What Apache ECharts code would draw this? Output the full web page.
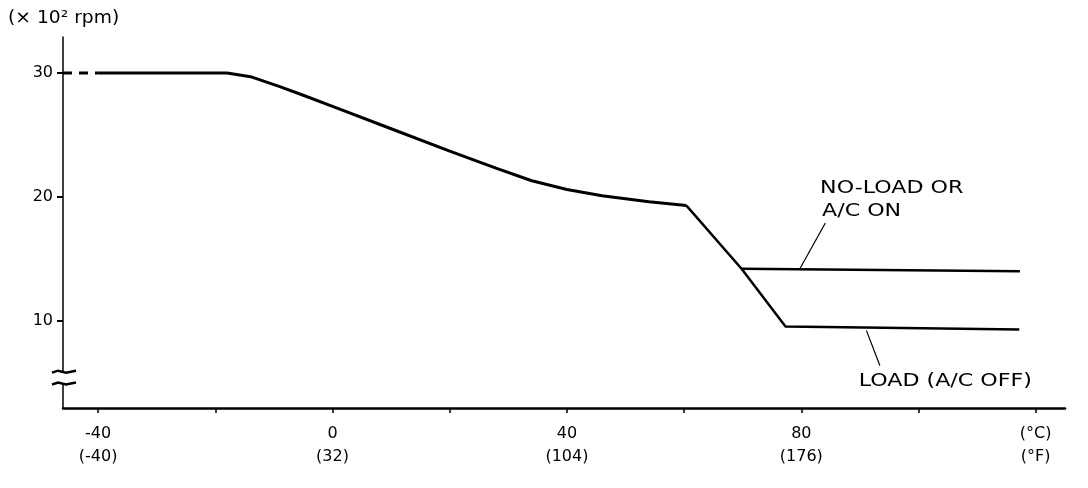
<!DOCTYPE html>
<html>
<head>
<meta charset="utf-8">
<script src="https://cdn.jsdelivr.net/npm/echarts@6/dist/echarts.min.js"></script>
<style>html,body{margin:0;padding:0;background:#fff}#c{width:1088px;height:488px}</style>
</head>
<body>
<div id="c"></div>
<script>
// ---- data ----
const xTicks = [-40, -20, 0, 20, 40, 60, 80, 100, 120];
const xLabelValues = [-40, 0, 40, 80, 120];
const xLabelsC = ['-40', '0', '40', '80', '(°C)'];
const xLabelsF = ['(-40)', '(32)', '(104)', '(176)', '(°F)'];
const yTicks = [10, 20, 30];
const yTitle = '(× 10² rpm)';
const dashedStart = [[-46, 30], [-40, 30]];
const curveTemp = [-40, -18, -14, -9, -5, 0, 10, 20, 28, 34, 40, 46, 54, 60.4];
const curveRpm  = [30, 30, 29.7, 28.9, 28.2, 27.3, 25.5, 23.7, 22.3, 21.3, 20.6, 20.1, 19.6, 19.3];
const loadTemp = [60.4, 69.8, 77.3, 117.2];
const loadRpm  = [19.3, 14.2, 9.55, 9.3];
const noLoadTemp = [69.8, 117.3];
const noLoadRpm  = [14.2, 14.0];
const noLoadLabel = ['NO-LOAD OR', 'A/C ON'];
const loadLabel = 'LOAD (A/C OFF)';
const noLoadLeader = [[79.8, 14.24], [84.1, 17.9]];
const loadLeader = [[91.1, 9.23], [93.4, 6.4]];
const noLoadTextPos = [83.2, 20.7];
const loadTextPos = [89.8, 5.1];
const breakVals = [5.9, 4.95];

const zip = (a, b) => a.map((v, i) => [v, b[i]]);
const FONT = '"DejaVu Sans", Arial, sans-serif';
const black = '#000';

const chart = echarts.init(document.getElementById('c'), null, {renderer: 'canvas'});
const lineBase = {type: 'line', symbol: 'none', silent: true, animation: false};
chart.setOption({
  animation: false,
  backgroundColor: '#fff',
  grid: {left: 63, right: 23, top: 37, bottom: 80, containLabel: false},
  xAxis: {
    type: 'value', min: -46, max: 125,
    axisLine: {show: true, onZero: false, lineStyle: {color: black, width: 2.5}},
    axisTick: {show: true, customValues: xTicks, length: 5, lineStyle: {color: black, width: 1.5}},
    axisLabel: {
      customValues: xLabelValues, margin: 14,
      formatter: v => { const i = xLabelValues.indexOf(v); return i < 0 ? '' : xLabelsC[i] + '\n' + xLabelsF[i]; },
      fontFamily: FONT, fontSize: 16, lineHeight: 23, color: black
    },
    splitLine: {show: false}
  },
  yAxis: {
    type: 'value', min: 2.97, max: 32.9,
    axisLine: {show: true, onZero: false, lineStyle: {color: black, width: 1.5}},
    axisTick: {show: true, customValues: yTicks, length: 6, lineStyle: {color: black, width: 2}},
    axisLabel: {customValues: yTicks, margin: 10, fontFamily: FONT, fontSize: 16, color: black},
    splitLine: {show: false}
  },
  series: [
    Object.assign({}, lineBase, {name: 'dash', data: dashedStart, lineStyle: {color: black, width: 3, type: [9, 7]}}),
    Object.assign({}, lineBase, {name: 'curve', data: zip(curveTemp, curveRpm), lineStyle: {color: black, width: 3, join: 'round'}}),
    Object.assign({}, lineBase, {name: 'load', data: zip(loadTemp, loadRpm), lineStyle: {color: black, width: 2.5}}),
    Object.assign({}, lineBase, {name: 'noload', data: zip(noLoadTemp, noLoadRpm), lineStyle: {color: black, width: 2.5}}),
    Object.assign({}, lineBase, {name: 'leader1', data: noLoadLeader, lineStyle: {color: black, width: 1.2}}),
    Object.assign({}, lineBase, {name: 'leader2', data: loadLeader, lineStyle: {color: black, width: 1.2}})
  ]
});

function px(p) { return chart.convertToPixel({gridIndex: 0}, p); }
const axisX = px([-46, 10])[0];
const b1 = px([-46, breakVals[0]])[1];
const b2 = px([-46, breakVals[1]])[1];
const nl = px(noLoadTextPos), nl2 = px([noLoadTextPos[0], noLoadTextPos[1] - 1.9]);
const ld = px(loadTextPos);
const tStyle = {fontFamily: FONT, fontSize: 18, fill: black, textVerticalAlign: 'middle'};
const SX = 1.23;
chart.setOption({
  graphic: [
    {type: 'text', x: 8, y: 19, scaleX: 1.1, style: {text: yTitle, fontFamily: FONT, fontSize: 17, fill: black, textVerticalAlign: 'middle'}},
    {type: 'rect', shape: {x: axisX - 4, y: b1, width: 8, height: b2 - b1}, style: {fill: '#fff'}, z: 100},
    {type: 'polyline', shape: {points: [[axisX - 11, b1 + 1], [axisX - 5, b1 - 1], [axisX + 3, b1 + 1], [axisX + 13, b1 - 1]]}, style: {stroke: black, lineWidth: 2.5, fill: null}, z: 101},
    {type: 'polyline', shape: {points: [[axisX - 11, b2 + 1], [axisX - 5, b2 - 1], [axisX + 3, b2 + 1], [axisX + 13, b2 - 1]]}, style: {stroke: black, lineWidth: 2.5, fill: null}, z: 101},
    {type: 'text', x: nl[0], y: nl[1], scaleX: SX, style: Object.assign({text: noLoadLabel[0]}, tStyle)},
    {type: 'text', x: nl[0] + 2, y: nl2[1], scaleX: SX, style: Object.assign({text: noLoadLabel[1]}, tStyle)},
    {type: 'text', x: ld[0], y: ld[1], scaleX: SX, style: Object.assign({text: loadLabel}, tStyle)}
  ]
});
</script>
</body>
</html>
